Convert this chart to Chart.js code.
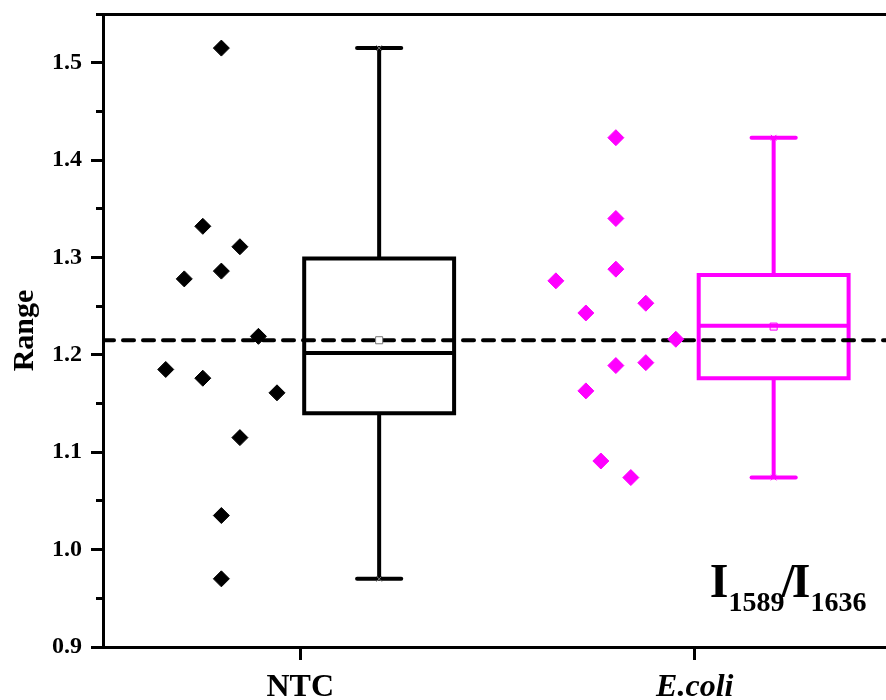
<!DOCTYPE html>
<html>
<head>
<meta charset="utf-8">
<title>I1589/I1636 range</title>
<script src="https://cdn.jsdelivr.net/npm/chart.js@4.4.1/dist/chart.umd.min.js"></script>
<style>
    html, body { margin: 0; padding: 0; background: #fff; overflow: hidden; }
    #wrap { width: 892px; height: 700px; }
</style>
</head>
<body>
<div id="wrap"><canvas id="rangeChart" width="892" height="700"></canvas></div>
<script>
// Categories on the x axis
const categories = ['NTC', 'E.coli'];
const categoryPos = [1, 2];

// Raw points (jittered x next to each box)
const ntcX = [0.800, 0.753, 0.847, 0.800, 0.706, 0.894, 0.659, 0.753, 0.941, 0.847, 0.800, 0.800];
const ntcY = [1.515, 1.332, 1.311, 1.286, 1.278, 1.219, 1.185, 1.176, 1.161, 1.115, 1.035, 0.970];
const ecoliX = [1.800, 1.800, 1.800, 1.648, 1.724, 1.876, 1.952, 1.800, 1.876, 1.724, 1.762, 1.838];
const ecoliY = [1.423, 1.340, 1.288, 1.276, 1.243, 1.253, 1.216, 1.189, 1.192, 1.163, 1.091, 1.074];

// Box statistics, one entry per category
const boxCenter = [1.2, 2.2];
const boxMin = [0.970, 1.074];
const boxQ1 = [1.140, 1.176];
const boxMedian = [1.202, 1.230];
const boxQ3 = [1.299, 1.282];
const boxMax = [1.515, 1.423];
const boxMean = [1.215, 1.229];

// Dashed reference level
const refLevel = 1.215;

// Axis ranges
const xRange = [0.5, 2.5];
const yRange = [0.9, 1.55];
const yMajorStep = 0.1;
const yMinorStep = 0.05;

const seriesColors = ['#000000', '#ff00ff'];
const meanColors = ['#777777', '#ff00ff'];
const boxHalf = 0.19;
const capHalf = 0.056;
const serif = '"Liberation Serif", "Times New Roman", serif';

function lineSet(points, color, cap, order) {
    return {
        data: points,
        showLine: true,
        borderColor: color,
        borderWidth: 4,
        borderCapStyle: cap,
        borderJoinStyle: 'miter',
        pointRadius: 0,
        pointHoverRadius: 0,
        fill: false,
        tension: 0,
        order: order
    };
}

function buildDatasets() {
    const sets = [];
    const groups = [[ntcX, ntcY], [ecoliX, ecoliY]];

    // scatter points on top
    groups.forEach((g, i) => {
        sets.push({
            data: g[0].map((x, k) => ({ x: x, y: g[1][k] })),
            pointStyle: 'rectRot',
            pointRadius: 8,
            pointBorderWidth: 1,
            backgroundColor: seriesColors[i],
            borderColor: seriesColors[i],
            order: 0
        });
    });

    // mean squares and whisker end crosses
    boxCenter.forEach((c, i) => {
        sets.push({
            data: [{ x: c, y: boxMean[i] }],
            pointStyle: 'rect',
            pointRadius: 5,
            pointBorderWidth: 1,
            backgroundColor: i === 0 ? '#ffffff' : 'rgba(255,0,255,0.15)',
            borderColor: meanColors[i],
            order: 1
        });
        sets.push({
            data: [{ x: c, y: boxMin[i] }, { x: c, y: boxMax[i] }],
            pointStyle: 'crossRot',
            pointRadius: 4,
            pointBorderWidth: 1,
            borderColor: meanColors[i],
            order: 1
        });
    });

    // dashed reference line
    sets.push(Object.assign(lineSet([{ x: xRange[0], y: refLevel }, { x: xRange[1], y: refLevel }], '#000000', 'round', 2), {
        borderDash: [11, 9]
    }));

    // boxes, medians, whiskers, caps
    boxCenter.forEach((c, i) => {
        const col = seriesColors[i];
        const l = c - boxHalf, r = c + boxHalf;
        sets.push(lineSet([
            { x: l, y: boxQ1[i] }, { x: l, y: boxQ3[i] }, { x: r, y: boxQ3[i] },
            { x: r, y: boxQ1[i] }, { x: l, y: boxQ1[i] }
        ], col, 'square', 3));
        sets.push(lineSet([{ x: l, y: boxMedian[i] }, { x: r, y: boxMedian[i] }], col, 'butt', 3));
        sets.push(lineSet([{ x: c, y: boxQ3[i] }, { x: c, y: boxMax[i] }], col, 'butt', 3));
        sets.push(lineSet([{ x: c, y: boxMin[i] }, { x: c, y: boxQ1[i] }], col, 'butt', 3));
        sets.push(lineSet([{ x: c - capHalf, y: boxMax[i] }, { x: c + capHalf, y: boxMax[i] }], col, 'round', 3));
        sets.push(lineSet([{ x: c - capHalf, y: boxMin[i] }, { x: c + capHalf, y: boxMin[i] }], col, 'round', 3));
    });
    return sets;
}

// I1589/I1636 label in the lower right corner: [text, subscript, kerning]
const formulaParts = [['I', false, 0], ['1589', true, 0], ['/', false, -3], ['I', false, -3], ['1636', true, 0]];
const formulaPlugin = {
    id: 'formula',
    afterDraw(chart) {
        const ctx = chart.ctx;
        let x = chart.scales.x.getPixelForValue(2.038);
        const y = chart.scales.y.getPixelForValue(0.951);
        ctx.save();
        ctx.fillStyle = '#000';
        ctx.textBaseline = 'alphabetic';
        ctx.textAlign = 'left';
        formulaParts.forEach(p => {
            x += p[2];
            ctx.font = 'bold ' + (p[1] ? 28 : 48) + 'px ' + serif;
            ctx.fillText(p[0], x, p[1] ? y + 14 : y);
            x += ctx.measureText(p[0]).width;
        });
        ctx.restore();
    }
};

// keep the label overhang of the y axes out of the layout
function fixY(width) {
    return s => {
        s.width = width;
        s.paddingTop = 0;
        s.paddingBottom = 0;
    };
}

window.rangeChart = new Chart(document.getElementById('rangeChart'), {
    type: 'scatter',
    data: { datasets: buildDatasets() },
    options: {
        responsive: false,
        devicePixelRatio: 1,
        animation: false,
        events: [],
        layout: { autoPadding: false, padding: { top: 14, left: 0, right: 0, bottom: 0 } },
        plugins: {
            legend: { display: false },
            tooltip: { enabled: false }
        },
        scales: {
            x: {
                type: 'linear',
                position: 'bottom',
                min: xRange[0],
                max: xRange[1],
                afterBuildTicks: s => { s.ticks = categoryPos.map(v => ({ value: v })); },
                afterFit: s => { s.height = 53; s.paddingLeft = 0; s.paddingRight = 0; },
                border: { display: true, color: '#000', width: 3 },
                grid: { drawOnChartArea: false, tickLength: 13, tickWidth: 3, tickColor: '#000' },
                ticks: {
                    autoSkip: false,
                    maxRotation: 0,
                    padding: 9,
                    color: '#000',
                    font: c => ({ family: serif, size: 32, weight: 'bold', style: c.tick && c.tick.value === 2 ? 'italic' : 'normal' }),
                    callback: v => categories[categoryPos.indexOf(v)]
                }
            },
            xTop: {
                type: 'linear',
                position: 'top',
                min: xRange[0],
                max: xRange[1],
                afterFit: s => { s.height = 0; s.paddingLeft = 0; s.paddingRight = 0; },
                border: { display: true, color: '#000', width: 3 },
                grid: { drawOnChartArea: false, drawTicks: false },
                ticks: { display: false }
            },
            y: {
                type: 'linear',
                position: 'left',
                weight: 1,
                min: yRange[0],
                max: yRange[1],
                afterFit: fixY(103),
                border: { display: true, color: '#000', width: 3 },
                grid: { drawOnChartArea: false, tickLength: 12, tickWidth: 3, tickColor: '#000' },
                title: {
                    display: true,
                    text: 'Range',
                    color: '#000',
                    padding: { top: 7, bottom: 0 },
                    font: { family: serif, size: 30, weight: 'bold' }
                },
                ticks: {
                    stepSize: yMajorStep,
                    includeBounds: false,
                    padding: 9,
                    color: '#000',
                    font: { family: serif, size: 24, weight: 'bold' },
                    callback: v => v.toFixed(1)
                }
            },
            yMinor: {
                type: 'linear',
                position: 'left',
                weight: 0,
                min: yRange[0],
                max: yRange[1],
                afterFit: fixY(0),
                border: { display: false },
                grid: { drawOnChartArea: false, tickLength: 7, tickWidth: 3, tickColor: '#000' },
                ticks: { stepSize: yMinorStep, display: false }
            }
        }
    },
    plugins: [formulaPlugin]
});
</script>
</body>
</html>
